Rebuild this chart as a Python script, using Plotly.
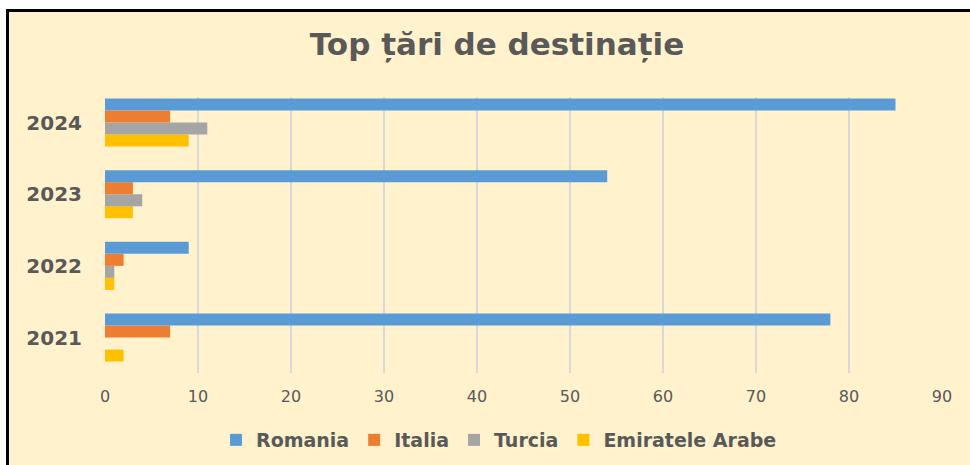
import plotly.graph_objects as go

years = ["2021", "2022", "2023", "2024"]
romania = [78, 9, 54, 85]
italia = [7, 2, 3, 7]
turcia = [0, 1, 4, 11]
emirate = [2, 1, 3, 9]
x_ticks = [0, 10, 20, 30, 40, 50, 60, 70, 80, 90]

series = [
    ("Romania", romania, "#5B9BD5", 1),
    ("Italia", italia, "#ED7D31", 2),
    ("Turcia", turcia, "#A5A5A5", 3),
    ("Emiratele Arabe", emirate, "#FFC000", 4),
]

fig = go.Figure()
for name, vals, col, rank in reversed(series):
    fig.add_trace(go.Bar(
        y=years, x=vals, name=name, orientation="h",
        marker=dict(color=col, line=dict(width=0)),
        legendrank=rank,
    ))

W, H = 970, 465
L, R, T, B = 105, 28, 97, 92
pw, ph = W - L - R, H - T - B

def px(x):
    return (x - L) / pw

def py(y):
    return (H - B - y) / ph

shapes = [
    dict(type="rect", xref="paper", yref="paper", x0=px(0), x1=px(W), y0=py(9), y1=py(0),
         fillcolor="white", line=dict(width=0), layer="above"),
    dict(type="rect", xref="paper", yref="paper", x0=px(0), x1=px(6), y0=py(H), y1=py(0),
         fillcolor="white", line=dict(width=0), layer="above"),
    dict(type="rect", xref="paper", yref="paper", x0=px(6), x1=px(W), y0=py(12), y1=py(9),
         fillcolor="black", line=dict(width=0), layer="above"),
    dict(type="rect", xref="paper", yref="paper", x0=px(6), x1=px(9), y0=py(H), y1=py(9),
         fillcolor="black", line=dict(width=0), layer="above"),
]

fig.update_layout(
    width=W, height=H,
    margin=dict(l=L, r=R, t=T, b=B, autoexpand=False),
    paper_bgcolor="#FFF2CC", plot_bgcolor="#FFF2CC",
    barmode="group", bargap=0.33, bargroupgap=0,
    title=dict(text="<b>Top țări de destinație</b>", x=497 / W, xanchor="center",
               xref="container", y=1 - 44 / H, yanchor="middle",
               font=dict(family="DejaVu Sans", size=31, color="#595959")),
    font=dict(family="DejaVu Sans", color="#595959"),
    xaxis=dict(range=[0, 90], tickvals=x_ticks, showgrid=True, gridcolor="#D9D9D9",
               gridwidth=2, zeroline=False, showline=False, ticks="",
               tickfont=dict(size=16, color="#595959"), ticklabelstandoff=12,
               fixedrange=True),
    yaxis=dict(showgrid=False, zeroline=False, showline=False, ticks="",
               range=[-0.495, 3.356], fixedrange=True,
               tickfont=dict(size=20, color="#595959", weight="bold"),
               ticklabelstandoff=22),
    legend=dict(orientation="h", x=px(499), xanchor="center", y=py(440), yanchor="middle",
                font=dict(size=19, color="#595959", weight="bold"),
                itemwidth=30, bgcolor="rgba(0,0,0,0)"),
    showlegend=True,
    shapes=shapes,
)

fig.write_html("out.html", config={"displayModeBar": False},
               post_script="document.body.style.margin='0';document.body.style.overflow='hidden';")
